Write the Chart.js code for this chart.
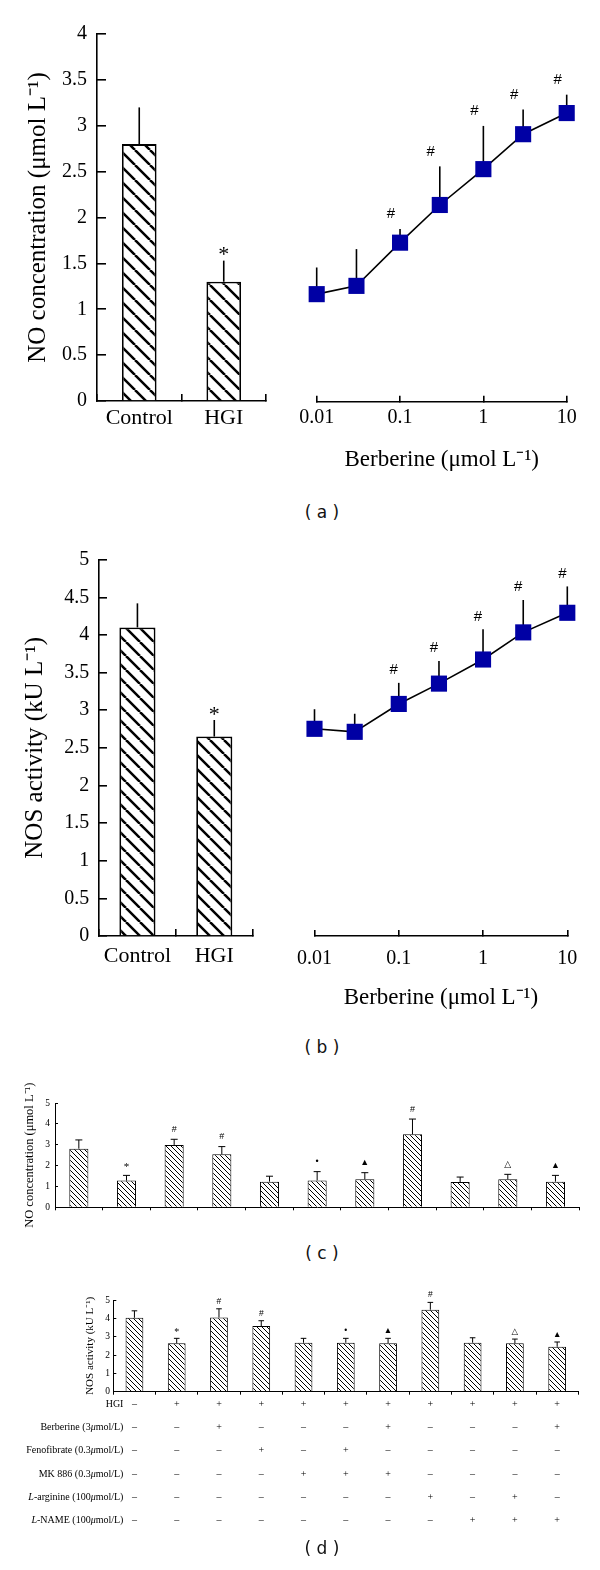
<!DOCTYPE html>
<html>
<head>
<meta charset="utf-8">
<script src="https://cdn.jsdelivr.net/npm/chart.js@4.4.1/dist/chart.umd.min.js"></script>
<style>
  html, body { margin: 0; padding: 0; background: #fff; }
  body { position: relative; width: 600px; height: 1570px; overflow: hidden; }
  canvas { position: absolute; }
  .panel-tag { position: absolute; transform: translate(-50%, -50%); font: 17px "DejaVu Sans", Verdana, sans-serif; color: #111; white-space: pre; }
</style>
</head>
<body>
<canvas id="noGroupChart" width="280" height="480" style="left:0;top:0"></canvas>
<canvas id="noDoseChart" width="320" height="480" style="left:280px;top:0"></canvas>
<div class="panel-tag" style="left:322px;top:512px">( a )</div>
<canvas id="nosGroupChart" width="280" height="490" style="left:0;top:530px"></canvas>
<canvas id="nosDoseChart" width="320" height="490" style="left:280px;top:530px"></canvas>
<div class="panel-tag" style="left:322px;top:1047px">( b )</div>
<canvas id="noTreatChart" width="600" height="150" style="left:0;top:1080px"></canvas>
<div class="panel-tag" style="left:322px;top:1253px">( c )</div>
<canvas id="nosTreatChart" width="600" height="270" style="left:0;top:1280px"></canvas>
<div class="panel-tag" style="left:322px;top:1548px">( d )</div>

<script>
// panels (a) and (b): control vs HGI, then berberine dose response
const groupLabels = ['Control', 'HGI'];
const doses = [0.01, 0.03, 0.1, 0.3, 1, 3, 10];
const doseTicks = [0.01, 0.1, 1, 10];

const noGroup = [2.8, 1.3];
const noGroupErr = [3.2, 1.53];          // top of error bar
const noGroupSig = ['', '*'];
const noDose = [1.17, 1.26, 1.73, 2.14, 2.53, 2.91, 3.14];
const noDoseErr = [1.46, 1.66, 1.88, 2.56, 3.0, 3.18, 3.34];
const noDoseSig = ['', '', '#', '#', '#', '#', '#'];

const nosGroup = [4.1, 2.65];
const nosGroupErr = [4.42, 2.87];
const nosGroupSig = ['', '*'];
const nosDose = [2.75, 2.71, 3.08, 3.35, 3.67, 4.03, 4.29];
const nosDoseErr = [3.01, 2.95, 3.36, 3.65, 4.07, 4.46, 4.64];
const nosDoseSig = ['', '', '#', '#', '#', '#', '#'];

// panels (c) and (d): 11 treatment groups
const treatGroups = ['1', '2', '3', '4', '5', '6', '7', '8', '9', '10', '11'];
const treatSig = ['', '*', '#', '#', '', '•', '▲', '#', '', '△', '▲'];
const noTreat = [2.81, 1.28, 2.99, 2.54, 1.23, 1.29, 1.34, 3.5, 1.21, 1.34, 1.23];
const noTreatErr = [3.23, 1.53, 3.26, 2.91, 1.49, 1.71, 1.66, 4.23, 1.45, 1.58, 1.53];
const nosTreat = [4.03, 2.64, 4.05, 3.58, 2.67, 2.67, 2.64, 4.47, 2.67, 2.64, 2.45];
const nosTreatErr = [4.41, 2.91, 4.52, 3.87, 2.91, 2.91, 2.91, 4.87, 2.94, 2.87, 2.71];

const treatRows = ['HGI', 'Berberine (3μmol/L)', 'Fenofibrate (0.3μmol/L)', 'MK 886 (0.3μmol/L)', 'L-arginine (100μmol/L)', 'L-NAME (100μmol/L)'];
const treatSigns = [
  '-++++++++++',
  '--+---+---+',
  '---+-+-----',
  '----+++----',
  '-------+-+-',
  '--------+++'
];

const SERIF = '"Liberation Serif", "Times New Roman", serif';
const SANS = '"Liberation Sans", "DejaVu Sans", Arial, sans-serif';
const MARKER = '#0000a4';

function hatch(ctx, size, lw) {
  const tile = document.createElement('canvas');
  tile.width = tile.height = size;
  const g = tile.getContext('2d');
  g.fillStyle = '#fff';
  g.fillRect(0, 0, size, size);
  g.strokeStyle = '#000';
  g.lineWidth = lw;
  g.beginPath();
  g.moveTo(0, 0); g.lineTo(size, size);
  g.moveTo(-size, 0); g.lineTo(0, size);
  g.moveTo(size, 0); g.lineTo(2 * size, size);
  g.stroke();
  return ctx.createPattern(tile, 'repeat');
}

// error bars (upper half only) + significance marks
const errorBars = {
  id: 'errorBars',
  beforeDatasetsDraw(chart, args, opts) {
    if (!opts.tops) return;
    const ctx = chart.ctx, y = chart.scales.y;
    const els = chart.getDatasetMeta(0).data;
    ctx.save();
    ctx.strokeStyle = '#000';
    ctx.lineWidth = opts.width || 1;
    els.forEach((el, i) => {
      const yt = y.getPixelForValue(opts.tops[i]);
      ctx.beginPath();
      ctx.moveTo(el.x, el.y);
      ctx.lineTo(el.x, yt);
      if (opts.cap) {
        ctx.moveTo(el.x - opts.cap, yt);
        ctx.lineTo(el.x + opts.cap, yt);
      }
      ctx.stroke();
    });
    ctx.restore();
  },
  afterDatasetsDraw(chart, args, opts) {
    if (!opts.marks) return;
    const ctx = chart.ctx, y = chart.scales.y;
    const els = chart.getDatasetMeta(0).data;
    ctx.save();
    ctx.fillStyle = '#000';
    ctx.textAlign = 'center';
    ctx.textBaseline = 'middle';
    els.forEach((el, i) => {
      const m = opts.marks[i];
      if (!m) return;
      const star = m === '*';
      ctx.font = (star ? opts.starSize : opts.markSize) + 'px ' + (star ? SERIF : SANS);
      const yt = y.getPixelForValue(opts.tops[i]);
      ctx.fillText(m, el.x + (opts.dx || 0), yt - opts.gap + (star ? opts.starShift : 0));
    });
    ctx.restore();
  }
};

// +/- table under panel (d)
const signTable = {
  id: 'signTable',
  afterDraw(chart, args, opts) {
    if (!opts.rows) return;
    const ctx = chart.ctx, x = chart.scales.x;
    const top = chart.chartArea.bottom + opts.top;
    const right = x.getPixelForValue(0) - opts.gap;
    ctx.save();
    ctx.fillStyle = '#000';
    ctx.textBaseline = 'middle';
    opts.rows.forEach((name, r) => {
      const yy = top + r * opts.step;
      // split so that the leading "L" and the "μ" are italic
      const parts = [];
      let rest = name;
      if (rest.startsWith('L-')) { parts.push(['L', true]); rest = rest.slice(1); }
      rest.split(/(μ)/).forEach(t => { if (t) parts.push([t, t === 'μ']); });
      const fontOf = it => (it ? 'italic ' : '') + opts.size + 'px ' + SERIF;
      let w = 0;
      parts.forEach(p => { ctx.font = fontOf(p[1]); w += ctx.measureText(p[0]).width; });
      let xx = right - w;
      ctx.textAlign = 'left';
      parts.forEach(p => { ctx.font = fontOf(p[1]); ctx.fillText(p[0], xx, yy); xx += ctx.measureText(p[0]).width; });
      ctx.font = opts.size + 'px ' + SERIF;
      ctx.textAlign = 'center';
      opts.signs[r].split('').forEach((s, c) => {
        ctx.fillText(s === '+' ? '+' : '–', x.getPixelForValue(c), yy);
      });
    });
    ctx.restore();
  }
};

Chart.register(errorBars, signTable);

function axisLook(tickLen, lw) {
  return {
    grid: { drawOnChartArea: false, color: '#000', lineWidth: lw, tickLength: tickLen },
    border: { color: '#000', width: lw }
  };
}

function barPanel(id, c) {
  const ctx = document.getElementById(id).getContext('2d');
  return new Chart(ctx, {
    type: 'bar',
    data: {
      labels: c.labels,
      datasets: [{
        data: c.values,
        backgroundColor: hatch(ctx, c.hatch[0], c.hatch[1]),
        borderColor: '#000',
        borderWidth: c.barBorder,
        barPercentage: c.barPct,
        categoryPercentage: 1
      }]
    },
    options: {
      responsive: false,
      animation: false,
      events: [],
      layout: { padding: c.pad },
      plugins: {
        legend: { display: false },
        tooltip: { enabled: false },
        errorBars: { tops: c.err, cap: c.cap, width: c.errWidth, marks: c.marks, gap: c.gap,
                     markSize: c.markSize, starSize: c.starSize, starShift: c.starShift },
        signTable: c.table || {}
      },
      scales: {
        x: {
          ...axisLook(c.xTick, c.axisWidth),
          ticks: { display: c.showX, color: '#000', font: { family: SERIF, size: c.xFont }, padding: c.xPad, maxRotation: 0, autoSkip: false },
          afterFit: s => { s.height = c.xHeight; }
        },
        y: {
          min: 0, max: c.max,
          ...axisLook(c.yTick, c.axisWidth),
          ticks: { stepSize: c.step, color: '#000', font: { family: SERIF, size: c.yFont }, padding: c.yPad, callback: v => String(v) },
          title: { display: true, text: c.title, color: '#000', font: { family: SERIF, size: c.titleFont }, padding: { top: c.titlePad, bottom: 0 } },
          afterFit: s => { s.width = c.yWidth; }
        }
      }
    }
  });
}

function dosePanel(id, c) {
  const ctx = document.getElementById(id).getContext('2d');
  return new Chart(ctx, {
    type: 'line',
    data: {
      datasets: [{
        data: c.values.map((v, i) => ({ x: doses[i], y: v })),
        borderColor: '#000',
        borderWidth: 1.6,
        tension: 0,
        pointStyle: 'rect',
        pointRadius: 11.4,
        pointBackgroundColor: MARKER,
        pointBorderColor: MARKER,
        pointBorderWidth: 0,
        clip: false
      }]
    },
    options: {
      responsive: false,
      animation: false,
      events: [],
      layout: { padding: c.pad },
      plugins: {
        legend: { display: false },
        tooltip: { enabled: false },
        errorBars: { tops: c.err, cap: 0, width: 1.6, marks: c.marks, gap: c.gap, dx: c.dx, markSize: 15, starSize: 20, starShift: 0 }
      },
      scales: {
        x: {
          type: 'logarithmic', min: 0.01, max: 10,
          ...axisLook(-6, 1.6),
          afterBuildTicks: s => { s.ticks = doseTicks.map(v => ({ value: v })); },
          ticks: { color: '#000', font: { family: SERIF, size: 20 }, padding: c.xPad, maxRotation: 0, autoSkip: false, callback: v => String(v) },
          title: { display: true, text: 'Berberine (μmol L⁻¹)', color: '#000', font: { family: SERIF, size: 23 }, padding: { top: 0, bottom: c.titlePad } },
          afterFit: s => { s.height = c.xHeight; }
        },
        y: { display: false, min: 0, max: c.max }
      }
    }
  });
}

// (a)
barPanel('noGroupChart', {
  labels: groupLabels, values: noGroup, err: noGroupErr, marks: noGroupSig,
  hatch: [15, 2.5], barBorder: 1.8, barPct: 0.41, cap: 0, errWidth: 1.6,
  gap: 8, markSize: 15, starSize: 22, starShift: 3,
  pad: { left: 0, right: 14, top: 34, bottom: 0 },
  xTick: -7, axisWidth: 1.6, showX: true, xFont: 22, xPad: 11, xHeight: 79,
  max: 4, step: 0.5, yTick: -9, yFont: 20, yPad: 19, yWidth: 97,
  title: 'NO concentration (μmol L⁻¹)', titleFont: 25, titlePad: 23
});
dosePanel('noDoseChart', {
  values: noDose, err: noDoseErr, marks: noDoseSig, gap: 15, dx: -9, max: 4,
  pad: { left: 36.7, right: 33.3, top: 34, bottom: 0 },
  xPad: 10, xHeight: 78.3, titlePad: 6
});

// (b)
barPanel('nosGroupChart', {
  labels: groupLabels, values: nosGroup, err: nosGroupErr, marks: nosGroupSig,
  hatch: [14, 2.5], barBorder: 1.8, barPct: 0.47, cap: 0, errWidth: 1.6,
  gap: 8, markSize: 15, starSize: 22, starShift: 3,
  pad: { left: 0, right: 27.3, top: 29.3, bottom: 0 },
  xTick: -7, axisWidth: 1.6, showX: true, xFont: 22, xPad: 14.5, xHeight: 84,
  max: 5, step: 0.5, yTick: -8, yFont: 20, yPad: 17.7, yWidth: 99,
  title: 'NOS activity (kU L⁻¹)', titleFont: 25, titlePad: 20
});
dosePanel('nosDoseChart', {
  values: nosDose, err: nosDoseErr, marks: nosDoseSig, gap: 13, dx: -5, max: 5,
  pad: { left: 22.3, right: 32.7, top: 29.3, bottom: 0 },
  xPad: 17, xHeight: 84, titlePad: 8
});

// (c)
barPanel('noTreatChart', {
  labels: treatGroups, values: noTreat, err: noTreatErr, marks: treatSig,
  hatch: [5, 1], barBorder: 1, barPct: 0.4, cap: 3.5, errWidth: 1,
  gap: 10, markSize: 9, starSize: 11, starShift: 1.5,
  pad: { left: 0, right: 20.7, top: 23, bottom: 0 },
  xTick: 3, axisWidth: 1, showX: false, xFont: 9, xPad: 0, xHeight: 22.7,
  max: 5, step: 1, yTick: -3, yFont: 9.5, yPad: 8, yWidth: 55,
  title: 'NO concentration (μmol L⁻¹)', titleFont: 12.5, titlePad: 22.5
});

// (d)
barPanel('nosTreatChart', {
  labels: treatGroups, values: nosTreat, err: nosTreatErr, marks: treatSig,
  hatch: [5, 1], barBorder: 1, barPct: 0.42, cap: 2.8, errWidth: 1,
  gap: 7.5, markSize: 8.5, starSize: 10, starShift: 1.5,
  pad: { left: 0, right: 21.7, top: 20, bottom: 0 },
  xTick: 3, axisWidth: 1, showX: false, xFont: 9, xPad: 0, xHeight: 158.3,
  max: 5, step: 1, yTick: -3, yFont: 9.5, yPad: 6.3, yWidth: 113.3,
  title: 'NOS activity (kU L⁻¹)', titleFont: 11, titlePad: 83.4,
  table: { rows: treatRows, signs: treatSigns, top: 12.3, step: 23.3, gap: 11, size: 10 }
});
</script>
</body>
</html>
